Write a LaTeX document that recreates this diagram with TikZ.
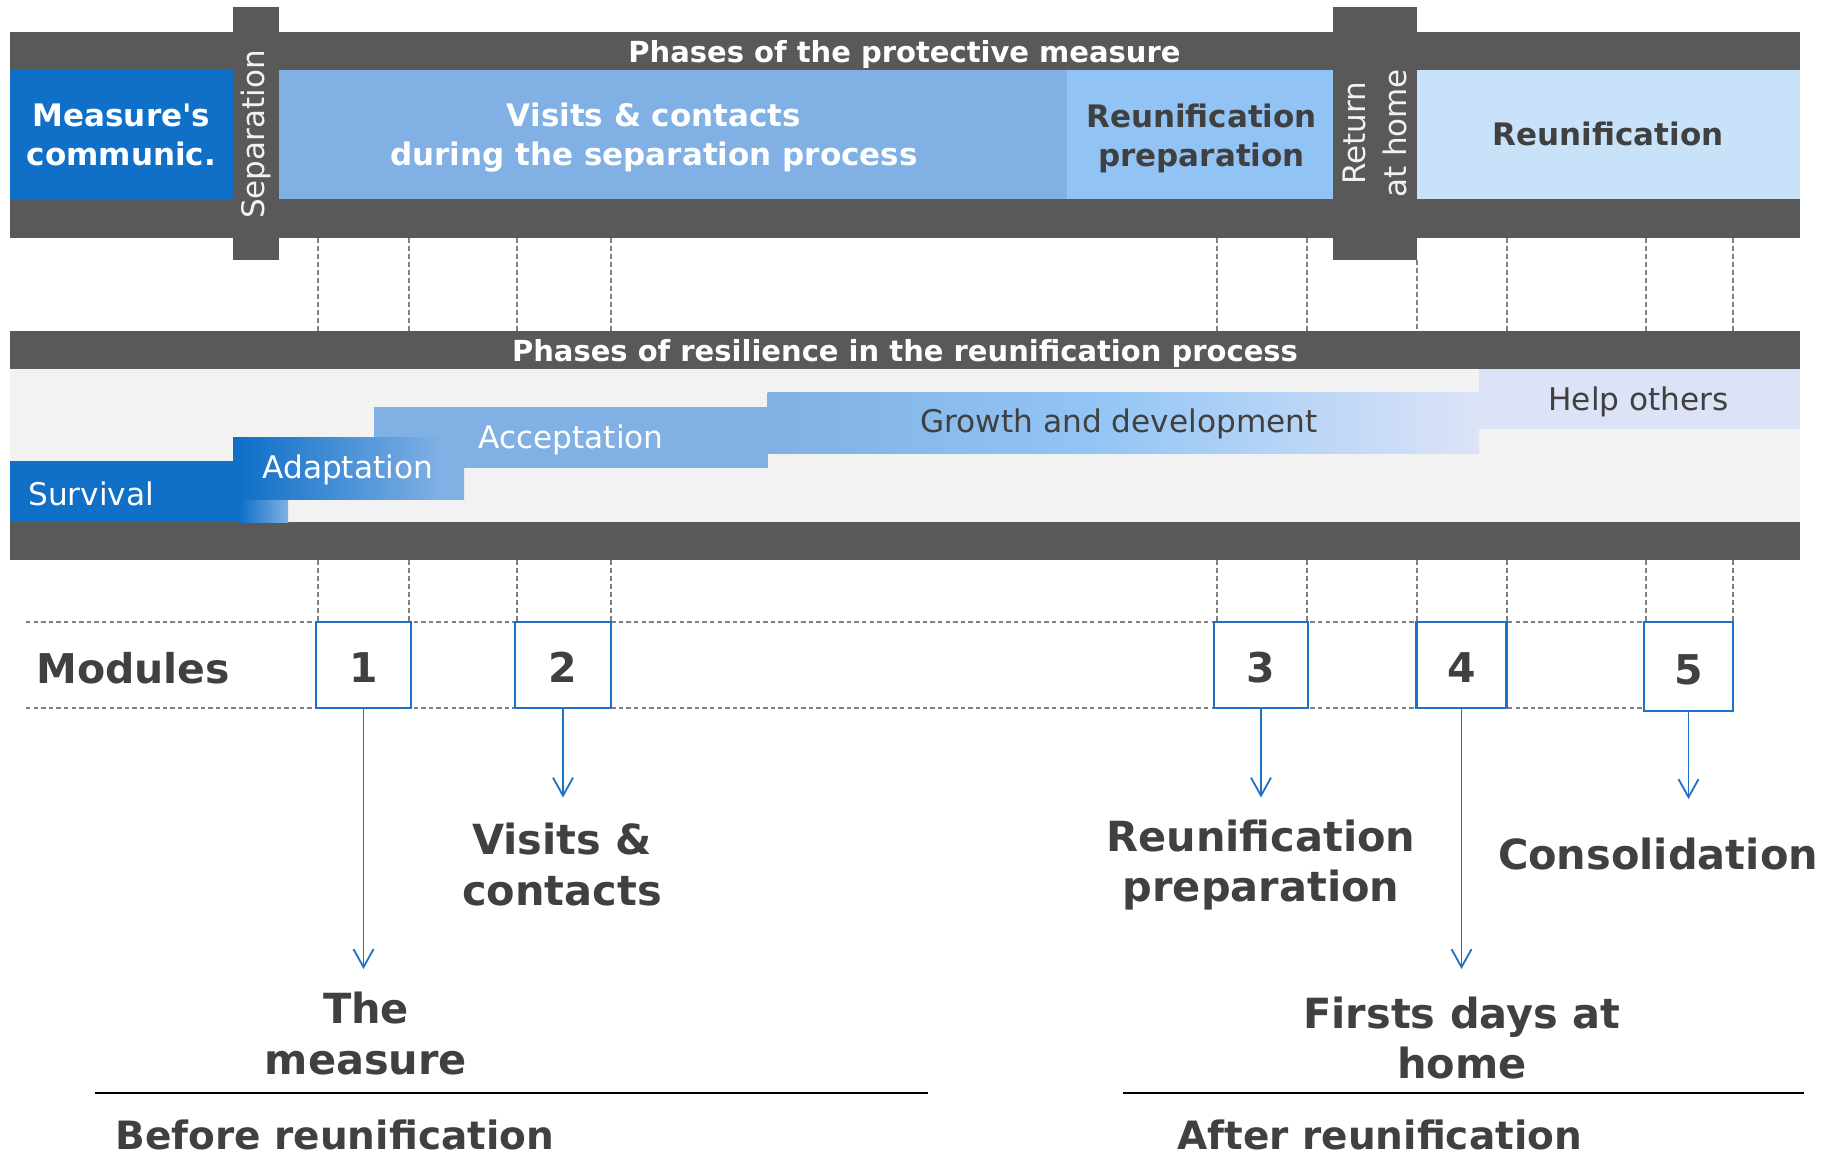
\documentclass[tikz,border=0pt]{standalone}
\usepackage{fontspec}
\setmainfont{DejaVu Sans}
\usetikzlibrary{arrows.meta}
\definecolor{barc}{HTML}{595959}
\definecolor{txt}{HTML}{404040}
\definecolor{dblue}{HTML}{1070C8}
\definecolor{vblue}{HTML}{80B0E4}
\definecolor{rpblue}{HTML}{91C3F5}
\definecolor{rblue}{HTML}{C8E2FA}
\definecolor{bggrey}{HTML}{F2F2F2}
\definecolor{helpc}{HTML}{DCE3F7}
\definecolor{gmid}{HTML}{92C5F5}
\definecolor{mblue}{HTML}{1F70C8}
\definecolor{dashc}{HTML}{808080}
\definecolor{sepc}{HTML}{F2F2F2}
\pgfdeclarehorizontalshading{growthsh}{100bp}{color(0bp)=(vblue); color(25bp)=(vblue); color(48bp)=(gmid); color(75bp)=(helpc); color(100bp)=(helpc)}
\pgfdeclarehorizontalshading{adaptsh}{100bp}{color(0bp)=(dblue); color(27bp)=(dblue); color(70bp)=(vblue); color(100bp)=(vblue)}
\begin{document}
\begin{tikzpicture}[x=0.5pt,y=-0.5pt,
  bandtitle/.style={font=\bfseries\fontsize{14.5}{17}\selectfont, text=white, inner sep=0pt, anchor=base},
  boxtitle/.style={font=\bfseries\fontsize{15.5}{19.5}\selectfont, align=center, inner sep=0pt, anchor=base},
  vertlabel/.style={font=\fontsize{15.5}{20.5}\selectfont, text=sepc, align=center, inner sep=0pt, rotate=90},
  restext/.style={font=\fontsize{15.6}{18}\selectfont, inner sep=0pt, anchor=base west},
  vdash/.style={draw=dashc, line width=0.6pt, dash pattern=on 2.5pt off 1.5pt},
  hdash/.style={draw=dashc, line width=0.7pt, dash pattern=on 2.2pt off 1.6pt},
  modbox/.style={draw=mblue, fill=white, line width=1.2pt, minimum height=43pt, inner sep=0pt,
    font=\bfseries\fontsize{20.5}{24}\selectfont, text=txt, text height=17.7pt, text depth=0pt},
  arr/.style={draw=mblue, line width=0.9pt, -{Straight Barb[length=9pt,width=10pt]}},
  modlabel/.style={font=\bfseries\fontsize{20.75}{25.3}\selectfont, text=txt, align=center, inner sep=0pt, anchor=base},
  section/.style={font=\bfseries\fontsize{19.5}{23}\selectfont, text=txt, inner sep=0pt, anchor=base west},
]
\useasboundingbox (0,0) rectangle (1824,1156);
\fill[white] (0,0) rectangle (1824,1156);

% ---------- protective measure band ----------
\fill[barc] (10,32) rectangle (1800,237.7);
\fill[dblue] (10,70) rectangle (233,199);
\fill[vblue] (279,70) rectangle (1067,199);
\fill[rpblue] (1067,70) rectangle (1333,199);
\fill[rblue] (1417,70) rectangle (1800,199);
\fill[barc] (233,7) rectangle (279,260);
\fill[barc] (1333,7) rectangle (1417,260);

\node[bandtitle] (pm) at (904.5,62.7) {Phases of the protective measure};
% multi-line nodes: base anchor = baseline of the last line
\node[boxtitle, text=white] (mc) at (121.5,165.7) {Measure\textquotesingle s\\communic.};
\node[boxtitle, text=white] (vc) at (654,165.7) {Visits \& contacts\\during the separation process};
\node[boxtitle, text=txt] (rp) at (1201.5,166.7) {Reunification\\preparation};
\node[boxtitle, text=txt] (ru) at (1608,145.7) {Reunification};
\node[vertlabel] (sep) at (256,134.5) {Separation};
\node[vertlabel] (rah) at (1375,133.5) {Return\\at home};

% ---------- guide lines ----------
\foreach \gx in {318,409,517,611,1217,1307,1507,1646,1733}{
  \draw[vdash] (\gx,237.7) -- (\gx,331);
  \draw[vdash] (\gx,560) -- (\gx,622);
}
\draw[vdash] (1417,260) -- (1417,331);
\draw[vdash] (1417,560) -- (1417,622);

% ---------- resilience band ----------
\fill[barc] (10,331) rectangle (1800,369);
\fill[bggrey] (10,369) rectangle (1800,522);
\fill[barc] (10,522) rectangle (1800,560);

\fill[vblue] (374,407) rectangle (768,468);
\fill[dblue] (10,461) rectangle (240.5,522);
\shade[left color=dblue, right color=vblue] (240,461) rectangle (288,522);
\shade[shading=adaptsh] (233,437) rectangle (464,499);
\shade[shading=growthsh] (767.5,392) rectangle (1479,453);
\fill[helpc] (1479,369) rectangle (1800,429);

\node[bandtitle] (pr) at (905,361.7) {Phases of resilience in the reunification process};
\node[restext, text=white] (sv) at (28,505) {Survival};
\node[restext, text=white] (ad) at (262,478.3) {Adaptation};
\node[restext, text=white] (ac) at (478,448.3) {Acceptation};
\node[restext, text=txt] (gd) at (920,432.3) {Growth and development};
\node[restext, text=txt] (ho) at (1548,410.7) {Help others};

% ---------- modules ----------
\draw[hdash] (26,622) -- (1733,622);
\draw[hdash] (26,708) -- (1733,708);
\node[font=\bfseries\fontsize{20.5}{24}\selectfont, text=txt, inner sep=0pt, anchor=base west] (modules) at (36,683.3) {Modules};

\node[modbox, minimum width=47.5pt] (m1) at (363.5,665) {1};
\node[modbox, minimum width=48pt] (m2) at (563,665) {2};
\node[modbox, minimum width=47pt] (m3) at (1261,665) {3};
\node[modbox, minimum width=45pt] (m4) at (1461.5,665) {4};
\node[modbox, minimum width=44.5pt, minimum height=44.5pt] (m5) at (1688.5,666.3) {5};

\coordinate (t1) at (363.5,969);
\coordinate (t2) at (563,797.5);
\coordinate (t3) at (1261,797.5);
\coordinate (t4) at (1461.5,969);
\coordinate (t5) at (1688.5,799);
\draw[arr] (m1.south) -- (t1);
\draw[arr] (m2.south) -- (t2);
\draw[arr] (m3.south) -- (t3);
\draw[arr] (m4.south) -- (t4);
\draw[arr] (m5.south) -- (t5);

\node[modlabel] (l1) at (366,1074) {The\\measure};
\node[modlabel] (l2) at (562,905) {Visits \&\\contacts};
\node[modlabel] (l3) at (1261,901.8) {Reunification\\preparation};
\node[modlabel] (l4) at (1462,1078.6) {Firsts days at\\home};
\node[modlabel] (l5) at (1658,869) {Consolidation};

% ---------- sections ----------
\coordinate (b1) at (95,1093);
\coordinate (b2) at (928,1093);
\coordinate (a1) at (1123,1093);
\coordinate (a2) at (1804,1093);
\draw[line width=1.2pt] (b1) -- (b2);
\draw[line width=1.2pt] (a1) -- (a2);
\node[section] (before) at (115,1149) {Before reunification};
\node[section] (after) at (1177,1149) {After reunification};
\end{tikzpicture}
\end{document}
